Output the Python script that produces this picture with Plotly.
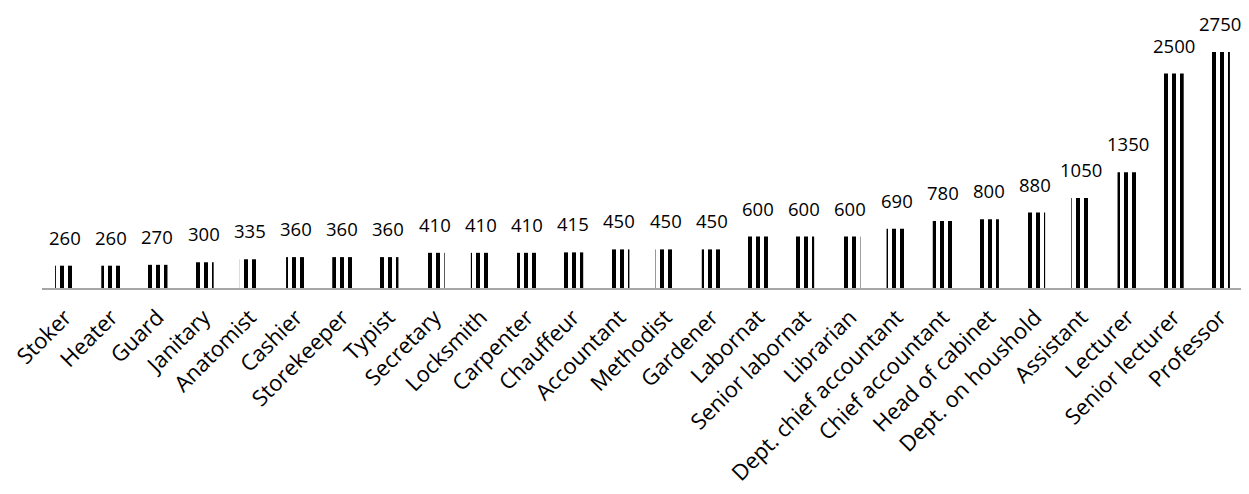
import plotly.graph_objects as go

categories = ["Stoker", "Heater", "Guard", "Janitary", "Anatomist", "Cashier", "Storekeeper",
              "Typist", "Secretary", "Locksmith", "Carpenter", "Chauffeur", "Accountant",
              "Methodist", "Gardener", "Labornat", "Senior labornat", "Librarian",
              "Dept. chief accountant", "Chief accountant", "Head of cabinet",
              "Dept. on houshold", "Assistant", "Lecturer", "Senior lecturer", "Professor"]
values = [260, 260, 270, 300, 335, 360, 360, 360, 410, 410, 410, 415, 450, 450, 450,
          600, 600, 600, 690, 780, 800, 880, 1050, 1350, 2500, 2750]

FONT = "Open Sans"

fig = go.Figure()
fig.add_trace(go.Bar(
    x=categories,
    y=values,
    marker=dict(
        color="white",
        line=dict(width=0),
        pattern=dict(shape="|", fgcolor="#000000", bgcolor="#ffffff",
                     fgopacity=1, fillmode="replace", size=8, solidity=0.5),
    ),
    hoverinfo="skip",
))

for c, v in zip(categories, values):
    fig.add_annotation(
        x=c, y=v, text=str(v), showarrow=False,
        yanchor="bottom", yshift=14,
        font=dict(family=FONT, size=18.5, color="black"),
    )

fig.update_layout(
    width=1241, height=486,
    margin=dict(l=34, r=6, t=22, b=206),
    paper_bgcolor="white", plot_bgcolor="white",
    bargap=0.567,
    showlegend=False,
    font=dict(family=FONT, size=18, color="black"),
)
fig.update_xaxes(
    showline=True, linecolor="#a6a6a6", linewidth=1.5,
    showgrid=False, ticks="", tickangle=-45, automargin=False,
    ticklabelstandoff=6,
    tickfont=dict(family=FONT, size=22, color="black"),
)
fig.update_yaxes(visible=False, range=[0, 3007], automargin=False)

fig.write_html("out.html")
